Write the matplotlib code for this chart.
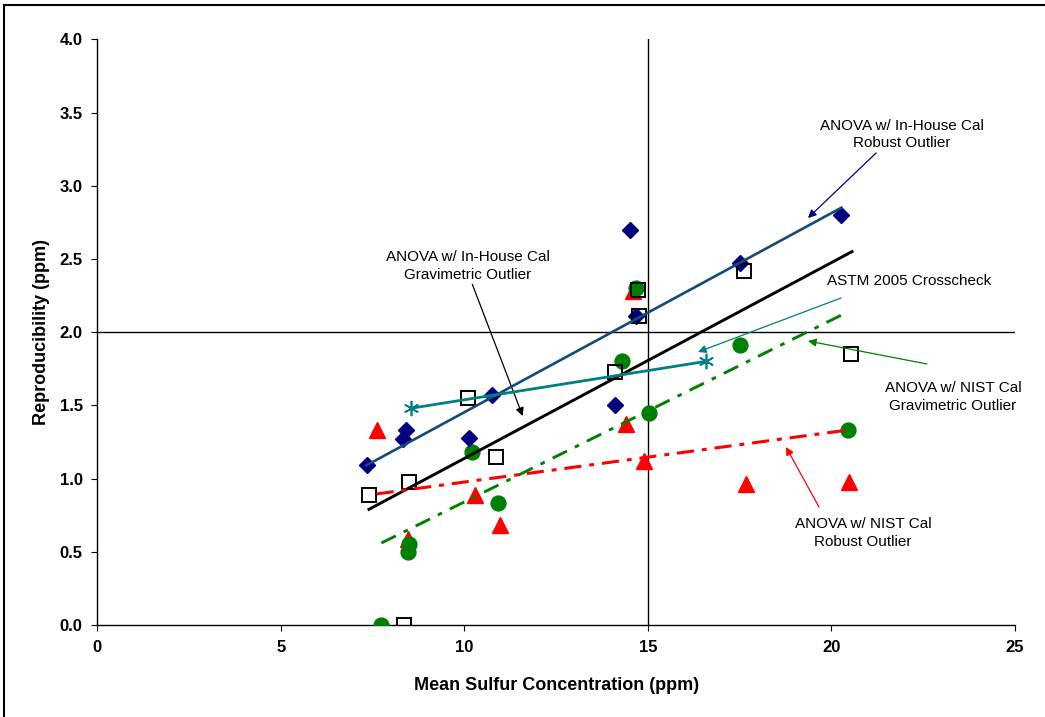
import matplotlib
matplotlib.use("Agg")
import matplotlib.pyplot as plt
from matplotlib.patches import Rectangle

plt.rcParams['font.family'] = ['Liberation Sans', 'DejaVu Sans']

# --- DATA ---
# In-House Cal, robust outlier (navy diamonds)
diam_x = [7.36, 8.40, 8.33, 10.13, 10.74, 14.09, 14.50, 14.67, 17.50, 20.27]
diam_y = [1.09, 1.33, 1.27, 1.28, 1.57, 1.50, 2.70, 2.11, 2.47, 2.80]

# In-House Cal, gravimetric outlier (open squares)
sq_x = [7.41, 8.49, 10.85, 10.10, 14.10, 14.73, 14.75, 17.63, 20.54, 8.36]
sq_y = [0.89, 0.98, 1.15, 1.55, 1.73, 2.29, 2.11, 2.42, 1.85, 0.0]

# NIST Cal, gravimetric outlier (green circles)
circ_x = [7.74, 8.49, 8.47, 10.21, 10.92, 14.30, 14.67, 15.03, 17.52, 20.45]
circ_y = [0.0, 0.55, 0.50, 1.18, 0.83, 1.80, 2.30, 1.45, 1.91, 1.33]

# NIST Cal, robust outlier (red triangles)
tri_x = [7.62, 8.47, 10.28, 10.96, 14.39, 14.89, 14.59, 17.68, 20.49]
tri_y = [1.33, 0.59, 0.89, 0.68, 1.37, 1.12, 2.28, 0.96, 0.98]

# ASTM 2005 crosscheck
astm_x = [8.54, 16.57]
astm_y = [1.48, 1.80]

# fitted lines (end points)
fit_inhouse_rob_x = [7.33, 20.27]
fit_inhouse_rob_y = [1.09, 2.85]
fit_inhouse_grav_x = [7.40, 20.56]
fit_inhouse_grav_y = [0.79, 2.55]
fit_nist_grav_x = [7.74, 20.38]
fit_nist_grav_y = [0.56, 2.13]
fit_nist_rob_x = [7.61, 20.40]
fit_nist_rob_y = [0.895, 1.33]

x_ticks = [0, 5, 10, 15, 20, 25]
y_ticks = [0.0, 0.5, 1.0, 1.5, 2.0, 2.5, 3.0, 3.5, 4.0]

W, H = 1045, 717
fig = plt.figure(figsize=(W / 100, H / 100), dpi=100)
ax = fig.add_axes([97.3 / W, 1 - 625 / H, (1015 - 97.3) / W, (625 - 39.3) / H])
ax.set_xlim(0, 25)
ax.set_ylim(0, 4)

# reference lines
ax.axhline(2.0, color='black', lw=1.0, zorder=1)
ax.axvline(15, color='black', lw=1.0, zorder=1)

# markers
ax.plot(tri_x, tri_y, ls='none', marker='^', ms=11, color='#FF0000', mec='#FF0000', zorder=2)
ax.plot(circ_x, circ_y, ls='none', marker='o', ms=10.7, color='#008000', mec='#008000', zorder=3)
ax.plot(diam_x, diam_y, ls='none', marker='D', ms=8.3, color='#000080', mec='#000080', zorder=3)
ax.plot(sq_x, sq_y, ls='none', marker='s', ms=10.3, mfc='none', mec='black', mew=1.4, zorder=3)

# lines
ax.plot(fit_inhouse_rob_x, fit_inhouse_rob_y, color='#124A78', lw=1.9, zorder=4)
ax.plot(fit_inhouse_grav_x, fit_inhouse_grav_y, color='black', lw=2.1, zorder=4)
ax.plot(fit_nist_grav_x, fit_nist_grav_y, color='#008000', lw=2.1,
        ls=(0, (5.5, 3.0, 1.6, 3.0)), zorder=4)
ax.plot(fit_nist_rob_x, fit_nist_rob_y, color='#FF0000', lw=2.2,
        ls=(0, (5.6, 2.6, 1.6, 2.6)), zorder=4)
ax.plot(astm_x, astm_y, color='#008080', lw=2.0, marker=(6, 2, 0), ms=11,
        mew=1.2, zorder=4)

fig.canvas.draw()


def px(x, y):
    # figure pixel (top-left origin) -> data coords
    return ax.transData.inverted().transform((x, H - y))


arrow = dict(arrowstyle='-|>', lw=0.9, mutation_scale=12, shrinkA=0, shrinkB=0)
LS = 1.3

ax.annotate('ANOVA w/ In-House Cal\nGravimetric Outlier', xy=px(522.7, 416),
            xytext=(468, H - 266), textcoords='figure pixels',
            ha='center', va='center', fontsize=11, linespacing=LS,
            arrowprops=dict(arrow, color='black', relpos=(0.52, 0.0)))
ax.annotate('ANOVA w/ In-House Cal\nRobust Outlier', xy=px(808, 218),
            xytext=(902, H - 134.5), textcoords='figure pixels',
            ha='center', va='center', fontsize=11, linespacing=LS,
            arrowprops=dict(arrow, color='#000080', relpos=(0.36, 0.0)))
ax.text(909, H - 281, 'ASTM 2005 Crosscheck', transform=None,
        ha='center', va='center', fontsize=11)
ax.annotate('', xy=px(698, 352), xytext=px(841, 298),
            arrowprops=dict(arrow, color='#008080'))
ax.text(953, H - 397, 'ANOVA w/ NIST Cal\nGravimetric Outlier', transform=None,
        ha='center', va='center', fontsize=11, linespacing=LS)
ax.annotate('', xy=px(808, 341), xytext=px(927, 364),
            arrowprops=dict(arrow, color='#008000'))
ax.text(863, H - 533, 'ANOVA w/ NIST Cal\nRobust Outlier', transform=None,
        ha='center', va='center', fontsize=11, linespacing=LS)
ax.annotate('', xy=px(786, 447), xytext=px(819, 507),
            arrowprops=dict(arrow, color='#FF0000'))

# axes styling
for s in ['top', 'right']:
    ax.spines[s].set_visible(False)
for s in ['left', 'bottom']:
    ax.spines[s].set_linewidth(1.0)
ax.set_xticks(x_ticks)
ax.set_yticks(y_ticks)
ax.set_xticklabels([str(v) for v in x_ticks])
ax.set_yticklabels([f"{v:.1f}" for v in y_ticks])
ax.tick_params(direction='out', length=4.5, width=0.8, labelsize=12, pad=6)
for lab in ax.get_xticklabels() + ax.get_yticklabels():
    lab.set_fontweight('bold')
ax.set_xlabel('Mean Sulfur Concentration (ppm)', fontsize=13, fontweight='bold', labelpad=16)
ax.set_ylabel('Reproducibility (ppm)', fontsize=13, fontweight='bold', labelpad=7)

# outer frame
fig.patches.append(Rectangle((4 / W, -0.02), 1.05, 1 - 5 / H + 0.02, transform=fig.transFigure,
                             fill=False, ec='black', lw=1.5))

fig.savefig('out.png', dpi=100)
